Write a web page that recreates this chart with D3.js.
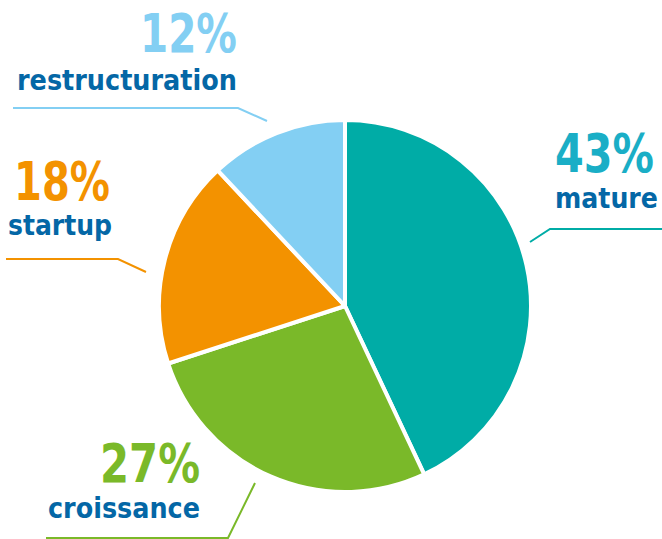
<!DOCTYPE html>
<html>
<head>
<meta charset="utf-8">
<script src="https://cdn.jsdelivr.net/npm/d3@7"></script>
<style>
  html, body { margin: 0; padding: 0; background: #fff; }
  svg { display: block; }
  text { font-family: "DejaVu Sans Condensed", "DejaVu Sans", sans-serif; font-weight: bold; }
  text.pct { font-family: "DejaVu Sans", sans-serif; }
</style>
</head>
<body>
<svg id="chart" width="662" height="539"></svg>
<script>
// Stages of company life cycle, share in percent (clockwise from 12 o'clock)
const categories = ["mature", "croissance", "startup", "restructuration"];
const values = [43, 27, 18, 12];
const sliceColors = ["#00aca6", "#7ab929", "#f39200", "#83cff3"];
const pctColors = ["#1aaec6", "#7ab929", "#f39200", "#83cff3"];
const labelColor = "#0467a6";

// Label blocks: percent text [x, baseline, width], name text, leader line
const labelLayout = {
  "mature":          { pct: [555, 172, 99],  name: [555, 208, 103], line: [[530, 242], [550, 229], [662, 229]] },
  "croissance":      { pct: [100, 482, 100], name: [48, 518, 152],  line: [[255, 483], [228, 538], [46, 538]] },
  "startup":         { pct: [14, 200, 96],   name: [8, 235, 104],   line: [[146, 272], [118, 259], [6, 259]] },
  "restructuration": { pct: [140, 52, 97],   name: [17, 90, 220],   line: [[267, 121], [238, 108], [13, 108]] }
};

const svg = d3.select("#chart");
const cx = 345, cy = 306, r = 186;

const pie = d3.pie().sort(null).value(d => d.value);
const arc = d3.arc().innerRadius(0).outerRadius(r);
const data = categories.map((c, i) => ({ name: c, value: values[i], i }));

const g = svg.append("g").attr("transform", `translate(${cx},${cy})`);
g.selectAll("path")
  .data(pie(data))
  .join("path")
  .attr("d", arc)
  .attr("fill", d => sliceColors[d.data.i])
  .attr("stroke", "#fff")
  .attr("stroke-width", 4)
  .attr("stroke-linejoin", "round");

// Place a text at (x, y) and squeeze it horizontally to the given width
function fitText(sel, x, y, width) {
  sel.attr("x", 0).attr("y", 0);
  const w = sel.node().getComputedTextLength();
  sel.attr("transform", `translate(${x},${y}) scale(${width / w},1)`);
}

const line = d3.line();
data.forEach(d => {
  const L = labelLayout[d.name];
  svg.append("path")
    .attr("d", line(L.line))
    .attr("fill", "none")
    .attr("stroke", sliceColors[d.i])
    .attr("stroke-width", 2);
  const p = svg.append("text")
    .attr("class", "pct")
    .attr("font-size", 53)
    .attr("fill", pctColors[d.i])
    .text(d.value + "%");
  fitText(p, L.pct[0], L.pct[1], L.pct[2]);
  const n = svg.append("text")
    .attr("font-size", 28)
    .attr("fill", labelColor)
    .text(d.name);
  fitText(n, L.name[0], L.name[1], L.name[2]);
});
</script>
</body>
</html>
